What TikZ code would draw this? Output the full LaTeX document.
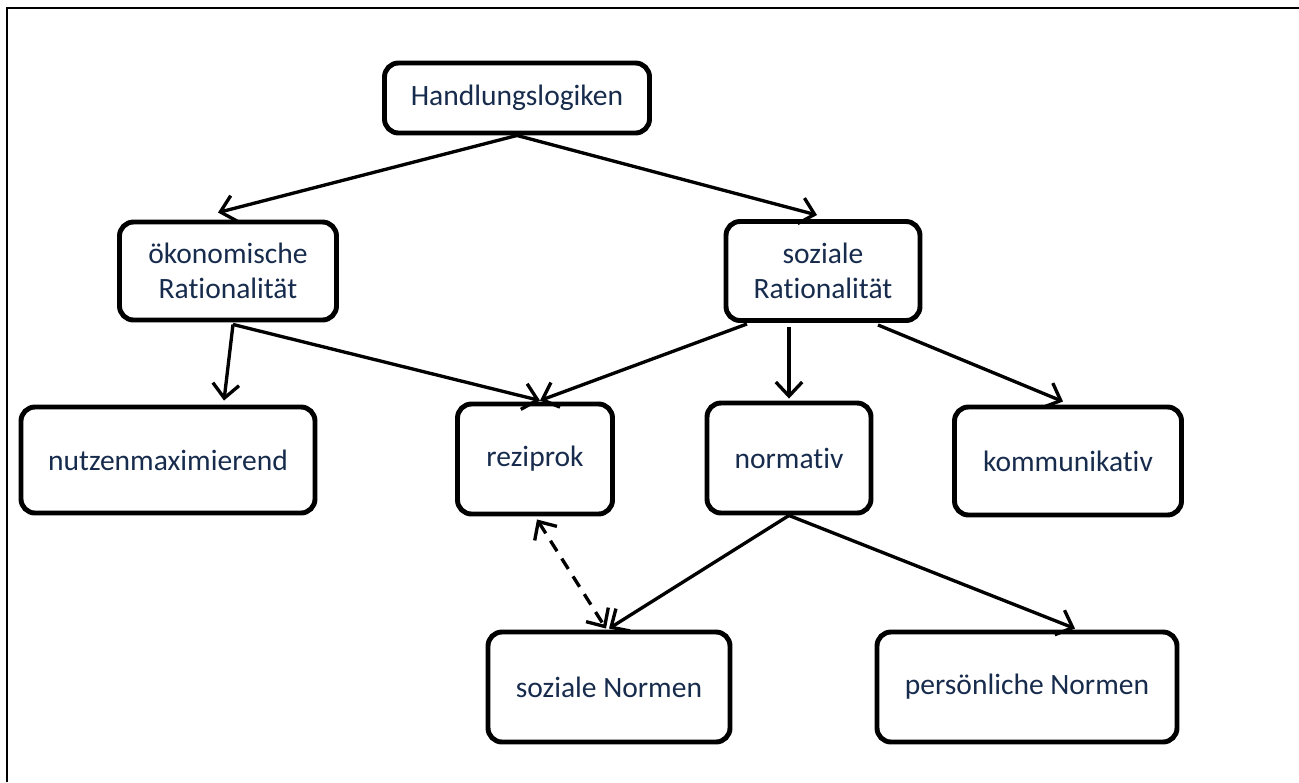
\documentclass[tikz,border=0pt]{standalone}
\usepackage{fontspec}
\setmainfont{Carlito}[Ligatures={NoCommon,NoRare,NoContextual}]
\usetikzlibrary{arrows.meta,calc,positioning}

\definecolor{textnavy}{RGB}{23,43,77}

\tikzset{
  box/.style={draw,line width=2.8pt,rounded corners=0.28cm,fill=white,
    text=textnavy,align=center,inner sep=0pt,
    font=\fontsize{16.8}{20}\selectfont},
  tip/.style={Straight Barb[length=8pt,width=15pt,line width=1.9pt]},
  link/.style={line width=1.9pt,-{Straight Barb[length=8pt,width=15pt]}},
  duallink/.style={line width=1.9pt,dash pattern=on 7pt off 5pt,
    {Straight Barb[length=8pt,width=15pt]}-{Straight Barb[length=8pt,width=15pt]}}
}

\begin{document}
\begin{tikzpicture}[x=0.02cm,y=-0.02cm]

\useasboundingbox (0,0) rectangle (1299,782);
\draw[line width=1.4pt] (7,782) -- (7,8) -- (1299,8);

\node[box,minimum width=265*0.02cm,minimum height=70*0.02cm] (hand) at (517,98) {Handlungslogiken};

\node[box,minimum width=217*0.02cm,minimum height=98*0.02cm] (oeko) at (228,271) {ökonomische\\Rationalität};
\node[box,minimum width=194*0.02cm,minimum height=99*0.02cm] (sozrat) at (823,271) {soziale\\Rationalität};

\node[box,minimum width=294*0.02cm,minimum height=106*0.02cm] (nutzen) at (168,460) {nutzenmaximierend};
\node[box,minimum width=155*0.02cm,minimum height=110*0.02cm] (rezi) at (535,459) {reziprok};
\node[box,minimum width=164*0.02cm,minimum height=110*0.02cm] (norm) at (789,458) {normativ};
\node[box,minimum width=227*0.02cm,minimum height=108*0.02cm] (komm) at (1068,461) {kommunikativ};

\node[box,minimum width=242*0.02cm,minimum height=110*0.02cm] (soznorm) at (609,687) {soziale Normen};
\node[box,minimum width=300*0.02cm,minimum height=110*0.02cm] (persnorm) at (1027,687) {persönliche Normen};

% top level
\draw[link] (hand.south) -- ($(oeko.north)+(-10,-7)$);
\draw[link] (hand.south) -- ($(sozrat.north)+(-6,-4)$);

% second level
\draw[link] ($(oeko.south)+(5,2)$) -- ($(nutzen.north)+(56,-4)$);
\draw[link] ($(oeko.south)+(5,2)$) -- ($(rezi.north)+(5,-1)$);
\draw[link] ($(sozrat.south)+(-76,1)$) -- ($(rezi.north)+(5,-1)$);
\draw[link] ($(sozrat.south)+(-34,4)$) -- ($(norm.north)+(0,-2)$);
\draw[link] ($(sozrat.south)+(55,2)$) -- ($(komm.north)+(-5,-3)$);

% third level
\draw[link] (norm.south) -- ($(soznorm.north)+(0,-1)$);
\draw[link] (norm.south) -- ($(persnorm.north)+(48,-1)$);
\draw[duallink] ($(rezi.south)+(2,3)$) -- ($(soznorm.north)+(-3,-1)$);

\end{tikzpicture}
\end{document}
